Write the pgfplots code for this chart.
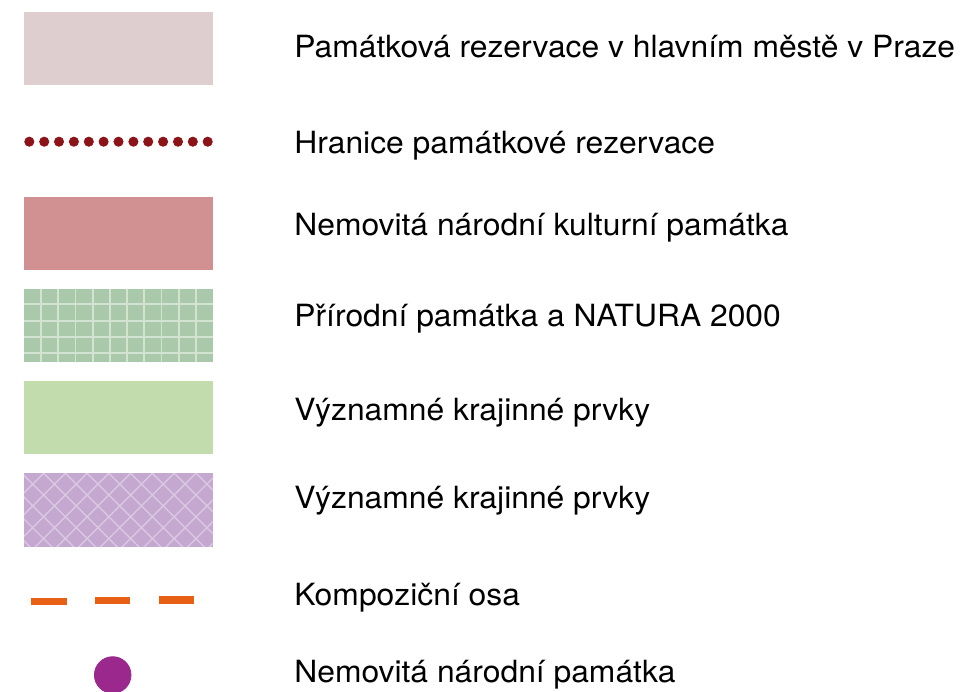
\documentclass[border=0pt]{standalone}
\usepackage{fontspec}
\setmainfont{TeX Gyre Heros}[FakeStretch=1.04]
\usepackage{pgfplots}
\pgfplotsset{compat=1.18}
\usetikzlibrary{patterns.meta}
\definecolor{rezfill}{RGB}{223,206,207}
\definecolor{dotred}{RGB}{140,20,24}
\definecolor{kulfill}{RGB}{209,145,146}
\definecolor{natfill}{RGB}{169,201,170}
\definecolor{natgrid}{RGB}{211,227,209}
\definecolor{vkpfill}{RGB}{194,220,174}
\definecolor{purfill}{RGB}{196,168,207}
\definecolor{purline}{RGB}{218,200,226}
\definecolor{osaorange}{RGB}{232,96,22}
\definecolor{circpur}{RGB}{155,40,140}
\begin{document}
\begin{tikzpicture}
\begin{axis}[x=0.5pt, y=0.5pt, xmin=0, xmax=967, ymin=-691, ymax=0,
  hide axis, clip=true, unbounded coords=jump,
  every axis plot/.append style={line cap=butt}]
% 1 Pamatkova rezervace
\addplot[fill=rezfill, draw=none] coordinates {(24,-12) (213,-12) (213,-85) (24,-85)} -- cycle;
% 2 Hranice (dots)
\addplot[only marks, mark=*, mark size=2.3pt, color=dotred] coordinates {
(29.3,-141.7) (44.2,-141.7) (59.0,-141.7) (73.9,-141.7) (88.8,-141.7) (103.6,-141.7) (118.5,-141.7)
(133.4,-141.7) (148.2,-141.7) (163.1,-141.7) (178.0,-141.7) (192.8,-141.7) (207.7,-141.7)};
% 3 Nemovita narodni kulturni pamatka
\addplot[fill=kulfill, draw=none] coordinates {(24,-197) (213,-197) (213,-270) (24,-270)} -- cycle;
% 4 Prirodni pamatka (grid)
\addplot[fill=natfill, draw=none] coordinates {(24,-288.5) (213,-288.5) (213,-361.5) (24,-361.5)} -- cycle;
\addplot[draw=natgrid, line width=0.9pt] coordinates {
(41.0,-288.5) (41.0,-361.5) (nan,nan)
(58.2,-288.5) (58.2,-361.5) (nan,nan)
(75.4,-288.5) (75.4,-361.5) (nan,nan)
(92.6,-288.5) (92.6,-361.5) (nan,nan)
(109.8,-288.5) (109.8,-361.5) (nan,nan)
(127.0,-288.5) (127.0,-361.5) (nan,nan)
(144.2,-288.5) (144.2,-361.5) (nan,nan)
(161.4,-288.5) (161.4,-361.5) (nan,nan)
(178.6,-288.5) (178.6,-361.5) (nan,nan)
(195.8,-288.5) (195.8,-361.5) (nan,nan)
(24,-304.3) (213,-304.3) (nan,nan)
(24,-320.6) (213,-320.6) (nan,nan)
(24,-336.9) (213,-336.9) (nan,nan)
(24,-353.2) (213,-353.2)};
% 5 Vyznamne krajinne prvky
\addplot[fill=vkpfill, draw=none] coordinates {(24,-381) (213,-381) (213,-454) (24,-454)} -- cycle;
% 6 Vyznamne krajinne prvky (crosshatch)
\addplot[fill=purfill, draw=none] coordinates {(24,-473) (213,-473) (213,-546.5) (24,-546.5)} -- cycle;
\addplot[draw=none, pattern={Hatch[angle=45, distance=7.7pt, line width=0.7pt]}, pattern color=purline]
  coordinates {(24,-473) (213,-473) (213,-546.5) (24,-546.5)} -- cycle;
% 7 Kompozicni osa
\addplot[draw=osaorange, line width=3.7pt] coordinates {
(30.7,-601.2) (66.7,-601.2) (nan,nan)
(95,-600.6) (130,-600.6) (nan,nan)
(158.7,-600.0) (194,-600.0)};
% 8 Nemovita narodni pamatka
\addplot[only marks, mark=*, mark size=9.15pt, color=circpur] coordinates {(112.7,-675)};
% texts
\begin{scope}[every node/.style={anchor=base west, inner sep=0pt, text=black, font=\fontsize{15.3}{18}\selectfont}]
\node at (axis cs:294,-57.5) {Památková rezervace v hlavním městě v Praze};
\node at (axis cs:294,-153.5) {Hranice památkové rezervace};
\node at (axis cs:294,-235.8) {Nemovitá národní kulturní památka};
\node at (axis cs:294,-326.5) {Přírodní památka a NATURA 2000};
\node at (axis cs:294,-420) {Významné krajinné prvky};
\node at (axis cs:294,-508.3) {Významné krajinné prvky};
\node at (axis cs:294,-605) {Kompoziční osa};
\node at (axis cs:294,-682.7) {Nemovitá národní památka};
\end{scope}
\end{axis}
\pgfresetboundingbox
\useasboundingbox (current axis.south west) rectangle (current axis.north east);
\end{tikzpicture}
\end{document}
